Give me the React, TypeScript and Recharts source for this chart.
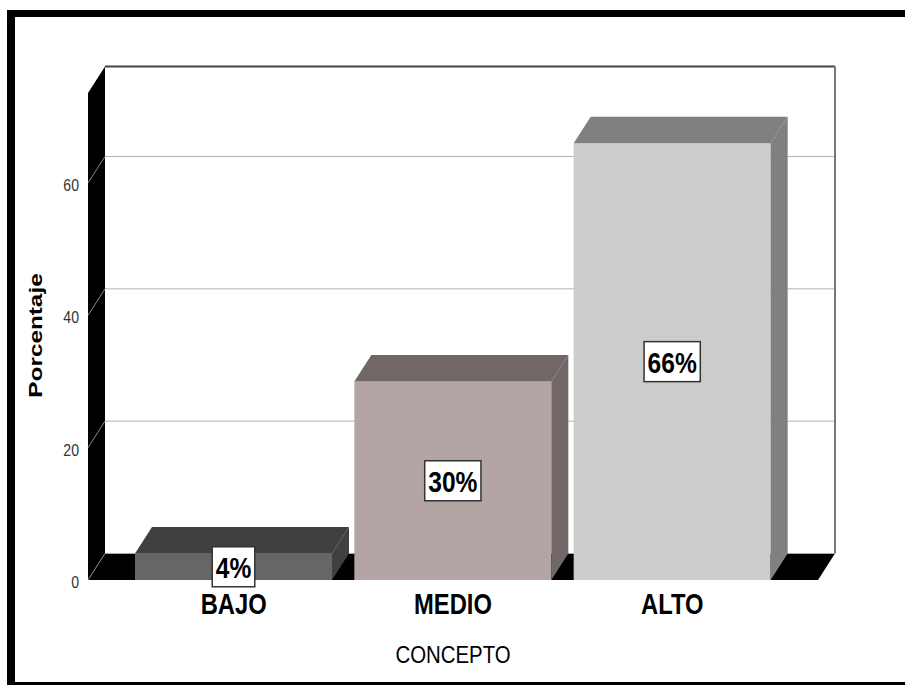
import { BarChart, Bar, XAxis, YAxis, CartesianGrid, ReferenceArea, LabelList, Label, Cell } from 'recharts';

const categories = ['BAJO', 'MEDIO', 'ALTO'];
const percentages = [4, 30, 66];
const yTicks = [0, 20, 40, 60];
const frontColors = ['#666666', '#b4a5a5', '#cccccc'];
const shadeColors = ['#404040', '#716767', '#808080'];

const data = categories.map((c, i) => ({ concepto: c, porcentaje: percentages[i] }));

const Y_MAX = 73.6;
// depth of the fake 3D projection
const DX = 17;
const DY = -26.5;
const PAD = 36;

const renderBar3D = (props: any) => {
  const { x, y, width, height, fill, index } = props;
  const shade = shadeColors[index] ?? '#555';
  const r = x + width;
  const b = y + height;
  return (
    <g>
      <rect x={x} y={y} width={width} height={height} fill={fill} />
      <polygon points={`${x},${y} ${x + DX},${y + DY} ${r + DX},${y + DY} ${r},${y}`} fill={shade} />
      <polygon points={`${r},${y} ${r + DX},${y + DY} ${r + DX},${b + DY} ${r},${b}`} fill={shade} />
    </g>
  );
};

const renderWalls = (props: any) => {
  const { x, y, width, height } = props;
  const left = x - PAD;
  const right = x + width + PAD;
  const bottom = y + height;
  return (
    <g>
      <polygon points={`${left},${y} ${left + DX},${y + DY} ${left + DX},${bottom + DY} ${left},${bottom}`} fill="#000" />
      <polygon points={`${left},${bottom} ${left + DX},${bottom + DY} ${right + DX},${bottom + DY} ${right},${bottom}`} fill="#000" />
      <line x1={left + DX} y1={y + DY} x2={right + DX} y2={y + DY} stroke="#444" strokeWidth={2} />
      <line x1={right + DX} y1={y + DY} x2={right + DX} y2={bottom + DY} stroke="#777" strokeWidth={2} />
      <line x1={left + DX} y1={bottom + DY} x2={right + DX} y2={bottom + DY} stroke="#aaa" strokeWidth={1} />
    </g>
  );
};

const renderGridLine = (p: any) => (
  <line key={p.key} x1={p.x1 + DX} y1={p.y1 + DY} x2={p.x2 + DX} y2={p.y2 + DY} stroke="#b4b4b4" strokeWidth={1} />
);

const YTick = (props: any) => {
  const { x, y, payload } = props;
  return (
    <g>
      <line x1={x} y1={y} x2={x + DX} y2={y + DY} stroke="#8a8a8a" strokeWidth={1} />
      <g transform={`translate(${x - 9},${y + 8}) scale(0.88,1)`}>
        <text textAnchor="end" fontSize={16} fontFamily="Arial, 'Liberation Sans', sans-serif" fill="#333">
          {payload.value}
        </text>
      </g>
    </g>
  );
};

const XTick = (props: any) => {
  const { x, y, payload } = props;
  return (
    <g transform={`translate(${x},${y + 34}) scale(0.82,1)`}>
      <text textAnchor="middle" fontSize={29} fontWeight="bold" fontFamily="Arial, 'Liberation Sans', sans-serif" fill="#000">
        {payload.value}
      </text>
    </g>
  );
};

const renderXLabel = (props: any) => {
  const { x, y, width } = props.viewBox;
  return (
    <g transform={`translate(${x + width / 2},${y + 83}) scale(0.85,1)`}>
      <text textAnchor="middle" fontSize={24} fontFamily="Arial, 'Liberation Sans', sans-serif" fill="#000">
        CONCEPTO
      </text>
    </g>
  );
};

const renderYLabel = (props: any) => {
  const { x, y, height } = props.viewBox;
  return (
    <g transform={`translate(${x - 6.5},${y + height / 2 - 1}) rotate(-90) scale(1.28,1)`}>
      <text textAnchor="middle" fontSize={19} fontWeight="bold" fontFamily="Arial, 'Liberation Sans', sans-serif" fill="#000">
        Porcentaje
      </text>
    </g>
  );
};

// rough Arial bold widths, used to size the white label boxes
const textWidth = (s: string, size: number) =>
  s.split('').reduce((w, ch) => w + (ch === '%' ? 0.889 : 0.556), 0) * size * 0.82;

const renderPct = (props: any) => {
  const { x, y, width, height, value } = props;
  const label = `${value}%`;
  const cx = x + width / 2;
  const cy = y + height / 2;
  const w = textWidth(label, 30) + 7;
  const h = 40;
  return (
    <g>
      <rect x={cx - w / 2} y={cy - h / 2} width={w} height={h} fill="#fff" stroke="#333" strokeWidth={1.5} />
      <g transform={`translate(${cx},${cy + 11}) scale(0.82,1)`}>
        <text textAnchor="middle" fontSize={30} fontWeight="bold" fontFamily="Arial, 'Liberation Sans', sans-serif" fill="#000">
          {label}
        </text>
      </g>
    </g>
  );
};

export default function App() {
  return (
    <div style={{ position: 'absolute', left: 0, top: 0, width: 905, height: 685, background: '#fff', overflow: 'hidden' }}>
      <div
        style={{
          position: 'absolute',
          left: 7,
          top: 10,
          width: 898,
          height: 675,
          boxSizing: 'border-box',
          borderLeft: '8px solid #000',
          borderTop: '7px solid #000',
          borderBottom: '3px solid #000',
        }}
      />
      <div style={{ position: 'absolute', left: 0, top: 0 }}>
        <BarChart
          width={905}
          height={685}
          data={data}
          margin={{ top: 93, right: 87, bottom: 45, left: 48 }}
          barCategoryGap={11}
        >
          <ReferenceArea y1={0} y2={Y_MAX} shape={renderWalls} ifOverflow="visible" />
          <CartesianGrid vertical={false} horizontal={renderGridLine} />
          <XAxis
            dataKey="concepto"
            axisLine={false}
            tickLine={false}
            tickSize={0}
            tickMargin={0}
            padding={{ left: PAD, right: PAD }}
            height={60}
            tick={XTick}
            interval={0}
          >
            <Label content={renderXLabel} />
          </XAxis>
          <YAxis
            domain={[0, Y_MAX]}
            ticks={yTicks}
            width={40}
            axisLine={false}
            tickLine={false}
            tickSize={0}
            tickMargin={0}
            tick={YTick}
          >
            <Label content={renderYLabel} />
          </YAxis>
          <Bar dataKey="porcentaje" isAnimationActive={false} shape={renderBar3D}>
            {data.map((d, i) => (
              <Cell key={d.concepto} fill={frontColors[i]} />
            ))}
            <LabelList dataKey="porcentaje" content={renderPct} />
          </Bar>
        </BarChart>
      </div>
    </div>
  );
}
